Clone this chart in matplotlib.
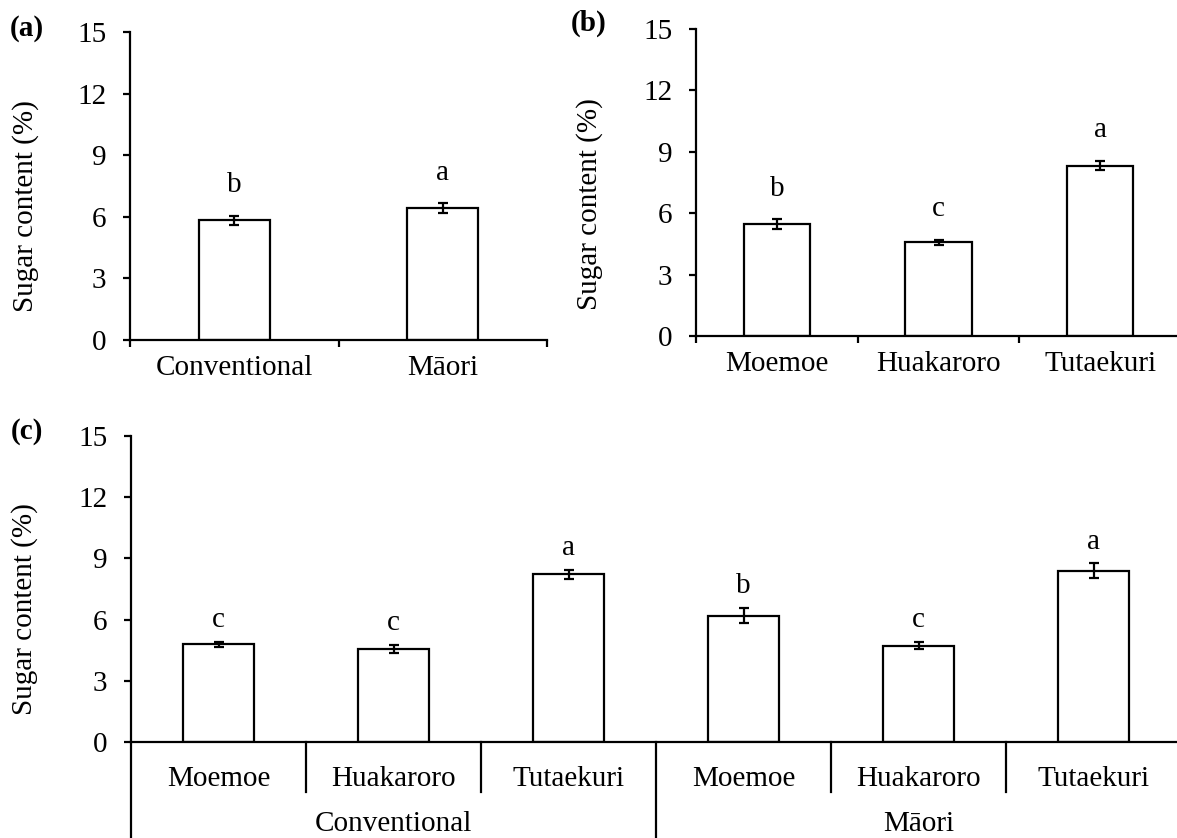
import matplotlib
matplotlib.use("Agg")
import matplotlib.pyplot as plt
import numpy as np

# sugar content (%) by system, cultivar, and system x cultivar
systems = ["Conventional", "Māori"]
system_mean = [5.84, 6.41]
system_se = [0.22, 0.24]
system_letters = ["b", "a"]

cultivars = ["Moemoe", "Huakaroro", "Tutaekuri"]
cultivar_mean = [5.48, 4.58, 8.33]
cultivar_se = [0.23, 0.12, 0.24]
cultivar_letters = ["b", "c", "a"]

conv_mean = [4.78, 4.55, 8.23]
conv_se = [0.13, 0.20, 0.22]
conv_letters = ["c", "c", "a"]
maori_mean = [6.20, 4.73, 8.39]
maori_se = [0.36, 0.19, 0.37]
maori_letters = ["b", "c", "a"]

yticks = [0, 3, 6, 9, 12, 15]

plt.rcParams["font.family"] = ["Liberation Serif", "DejaVu Serif"]
plt.rcParams["font.size"] = 21
FS = 21

W, H = 1177, 838
fig = plt.figure(figsize=(W / 100, H / 100), dpi=100)


def add_ax(left, top, right, bottom):
    return fig.add_axes([left / W, 1 - bottom / H, (right - left) / W, (bottom - top) / H])


def bars(ax, means, errs, letters, width, offset):
    x = np.arange(len(means))
    ax.bar(x, means, width=width, color="white", edgecolor="black", linewidth=1.6, zorder=2)
    ax.errorbar(x, means, yerr=errs, fmt="none", ecolor="black", elinewidth=1.6,
                capsize=3.6, capthick=1.6, zorder=3)
    for xi, m, e, t in zip(x, means, errs, letters):
        ax.text(xi, m + e + offset, t, ha="center", va="baseline", fontsize=FS)
    ax.set_xlim(-0.5, len(means) - 0.5)
    ax.set_ylim(0, 15)
    ax.set_yticks(yticks)
    for s in ["top", "right"]:
        ax.spines[s].set_visible(False)
    for s in ["left", "bottom"]:
        ax.spines[s].set_linewidth(1.6)
    ax.tick_params(axis="y", direction="out", length=5, width=1.6, pad=12, labelsize=FS)
    return x


def category_axis(ax, labels):
    n = len(labels)
    ax.set_xticks(np.arange(n + 1) - 0.5)
    ax.set_xticklabels([])
    ax.set_xticks(np.arange(n), minor=True)
    ax.set_xticklabels(labels, minor=True)
    ax.tick_params(axis="x", which="major", direction="out", length=5, width=1.6)
    ax.tick_params(axis="x", which="minor", length=0, pad=11, labelsize=FS)


# (a) production system
ax_a = add_ax(130, 32, 547, 340)
bars(ax_a, system_mean, system_se, system_letters, 0.34, 1.15)
category_axis(ax_a, systems)

# (b) cultivar
ax_b = add_ax(696, 29, 1181, 336)
bars(ax_b, cultivar_mean, cultivar_se, cultivar_letters, 0.41, 1.15)
category_axis(ax_b, cultivars)

# (c) system x cultivar, with two-level category axis
ax_c = add_ax(131, 436, 1181, 742)
all_mean = conv_mean + maori_mean
all_se = conv_se + maori_se
all_letters = conv_letters + maori_letters
bars(ax_c, all_mean, all_se, all_letters, 0.41, 0.72)
ax_c.set_xticks([])

trans = ax_c.get_xaxis_transform()
axh = 742 - 436
for i, name in enumerate(cultivars * 2):
    ax_c.annotate(name, xy=(i, 0), xycoords=trans, xytext=(0, -44 * 0.72),
                  textcoords="offset points", ha="center", va="baseline", fontsize=FS)
for g, name in enumerate(systems):
    ax_c.annotate(name, xy=(g * 3 + 1, 0), xycoords=trans, xytext=(0, -89 * 0.72),
                  textcoords="offset points", ha="center", va="baseline", fontsize=FS)
for b in np.arange(len(all_mean) + 1) - 0.5:
    depth = 120 if b in (-0.5, 2.5, 5.5) else 50
    ax_c.plot([b, b], [0, -depth / axh], transform=trans, color="black",
              linewidth=1.6, clip_on=False)

# axis titles and panel tags
for yc, xc in [(206, 26), (204, 590), (609, 25)]:
    fig.text(xc / W, 1 - yc / H, "Sugar content (%)", rotation=90,
             ha="center", va="center", fontsize=FS)
for tag, xc, yc in [("(a)", 27, 28), ("(b)", 589, 23), ("(c)", 27, 431)]:
    fig.text(xc / W, 1 - yc / H, tag, ha="center", va="center",
             fontsize=FS, fontweight="bold")

fig.savefig("out.png", dpi=100)
